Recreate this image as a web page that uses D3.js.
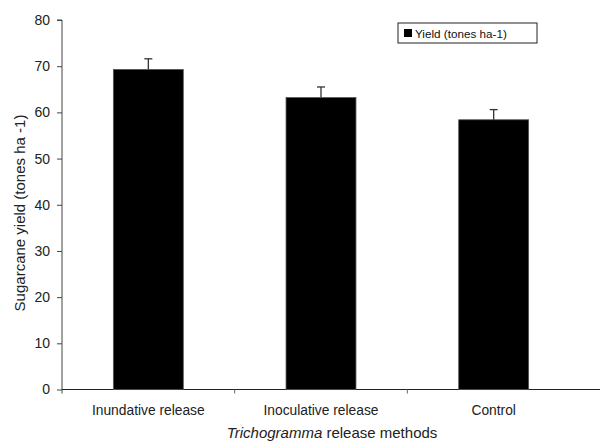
<!DOCTYPE html>
<html>
<head>
<meta charset="utf-8">
<script src="https://cdn.jsdelivr.net/npm/d3@7"></script>
<style>
  body { margin: 0; background: #fff; }
  text { font-family: "Liberation Sans", Arial, sans-serif; }
</style>
</head>
<body>
<div id="chart"></div>
<script>
// data
const methods = ["Inundative release", "Inoculative release", "Control"];
const yieldValues = [69.3, 63.2, 58.4];
const yieldErrors = [2.3, 2.3, 2.2];
const yTicks = [0, 10, 20, 30, 40, 50, 60, 70, 80];

const margin = { top: 20, right: 20, bottom: 54.5, left: 62 },
    width = 600 - margin.left - margin.right,
    height = 444 - margin.top - margin.bottom;

const svg = d3.select("#chart")
    .append("svg")
    .attr("width", 600)
    .attr("height", 444)
    .append("g")
    .attr("transform", `translate(${margin.left},${margin.top})`);

// X scale: three bands of ~173px, axis line runs past the last one
const x = d3.scaleBand()
    .domain(methods)
    .range([0, 518])
    .paddingInner(0.595)
    .paddingOuter(0.2975);

const y = d3.scaleLinear()
    .domain([0, 80])
    .range([height, 0]);

// y axis
const yAxis = svg.append("g")
    .call(d3.axisLeft(y).tickValues(yTicks).tickSize(5).tickSizeOuter(0).tickPadding(7));
yAxis.select(".domain").attr("stroke", "#444").attr("d", `M0,${height + 4}V0H-5`);
yAxis.selectAll(".tick line").attr("stroke", "#444");
yAxis.selectAll(".tick text").attr("font-size", 14).attr("fill", "#222")
    .style("font-family", "Liberation Sans, Arial, sans-serif");

// x axis
const xg = svg.append("g").attr("transform", `translate(0,${height})`);
xg.append("line")
    .attr("x1", 0).attr("x2", 600 - margin.left)
    .attr("stroke", "#222");
const step = x.step();
[1, 2].forEach(i => {
    xg.append("line")
        .attr("x1", i * step).attr("x2", i * step)
        .attr("y1", 0).attr("y2", 4)
        .attr("stroke", "#666");
});
xg.selectAll("text.cat")
    .data(methods)
    .enter().append("text")
    .attr("class", "cat")
    .attr("x", d => x(d) + x.bandwidth() / 2)
    .attr("y", 25)
    .attr("text-anchor", "middle")
    .attr("font-size", 13.8)
    .attr("fill", "#222")
    .text(d => d);

// bars
svg.append("g")
    .selectAll("rect")
    .data(methods)
    .enter().append("rect")
    .attr("x", d => x(d))
    .attr("y", (d, i) => y(yieldValues[i]))
    .attr("width", x.bandwidth())
    .attr("height", (d, i) => height - y(yieldValues[i]))
    .attr("fill", "#000")
    .attr("stroke", "#555")
    .attr("stroke-width", 0.8);

// error bars (upper half only)
const eb = svg.append("g").attr("stroke", "#333").attr("stroke-width", 1.3);
methods.forEach((m, i) => {
    const cx = x(m) + x.bandwidth() / 2;
    eb.append("line")
        .attr("x1", cx).attr("x2", cx)
        .attr("y1", y(yieldValues[i])).attr("y2", y(yieldValues[i] + yieldErrors[i]));
    eb.append("line")
        .attr("x1", cx - 4).attr("x2", cx + 4)
        .attr("y1", y(yieldValues[i] + yieldErrors[i])).attr("y2", y(yieldValues[i] + yieldErrors[i]));
});

// legend
const legend = svg.append("g").attr("transform", `translate(${398 - margin.left},${23 - margin.top})`);
legend.append("rect")
    .attr("width", 139).attr("height", 20)
    .attr("fill", "#fff").attr("stroke", "#222");
legend.append("rect")
    .attr("x", 6).attr("y", 6).attr("width", 8).attr("height", 8)
    .attr("fill", "#000");
legend.append("text")
    .attr("x", 17).attr("y", 14.5)
    .attr("font-size", 11.7).attr("fill", "#111")
    .text("Yield (tones ha-1)");

// axis titles
svg.append("text")
    .attr("transform", `translate(${25 - margin.left},${213 - margin.top}) rotate(-90)`)
    .attr("text-anchor", "middle")
    .attr("font-size", 15).attr("fill", "#222")
    .text("Sugarcane yield (tones ha -1)");

const xt = svg.append("text")
    .attr("x", 332 - margin.left)
    .attr("y", 438 - margin.top)
    .attr("text-anchor", "middle")
    .attr("font-size", 15).attr("fill", "#222");
xt.append("tspan").attr("font-style", "italic").text("Trichogramma");
xt.append("tspan").text(" release methods");
</script>
</body>
</html>
